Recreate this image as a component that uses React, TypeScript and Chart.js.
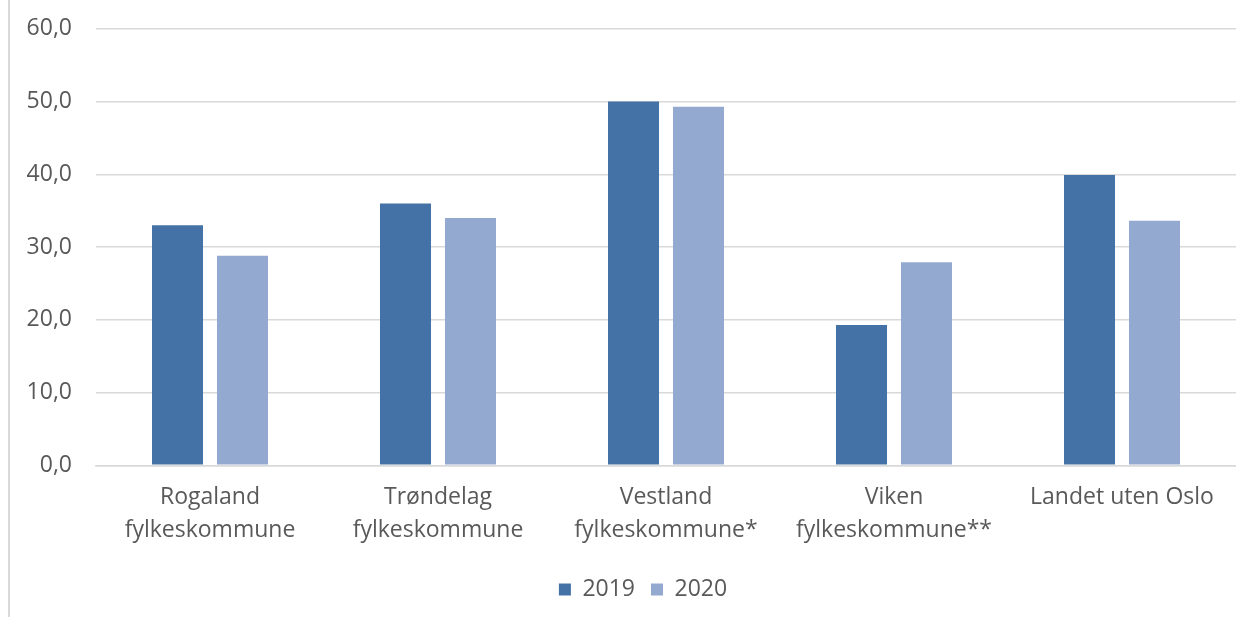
import React, { useEffect, useRef } from "react";
import { Chart, registerables } from "chart.js";

Chart.register(...registerables);

const categories: (string | string[])[] = [
  ["Rogaland", "fylkeskommune"],
  ["Trøndelag", "fylkeskommune"],
  ["Vestland", "fylkeskommune*"],
  ["Viken", "fylkeskommune**"],
  "Landet uten Oslo",
];
const series2019 = [33.0, 36.0, 50.0, 19.3, 39.9];
const series2020 = [28.8, 34.0, 49.3, 27.9, 33.6];
const yTicks = { min: 0, max: 60, step: 10 };

const FONT = "'Open Sans', sans-serif";
const TEXT = "#595959";
const GRID = "#d9d9d9";

const legendShift = {
  id: "legendShift",
  afterLayout(chart: any) {
    if (chart.legend) {
      chart.legend.left += 25;
      chart.legend.right += 25;
    }
  },
};

export default function App() {
  const ref = useRef<HTMLCanvasElement | null>(null);
  useEffect(() => {
    document.body.style.margin = "0";
    const ctx = ref.current!;
    const chart = new Chart(ctx, {
      type: "bar",
      data: {
        labels: categories,
        datasets: [
          {
            label: "2019",
            data: series2019,
            backgroundColor: "#4472a6",
            borderColor: "#4472a6",
            barPercentage: 0.785,
            categoryPercentage: 0.57,
          },
          {
            label: "2020",
            data: series2020,
            backgroundColor: "#94a9d0",
            borderColor: "#94a9d0",
            barPercentage: 0.785,
            categoryPercentage: 0.57,
          },
        ],
      },
      plugins: [legendShift],
      options: {
        animation: false,
        responsive: false,
        maintainAspectRatio: false,
        layout: { padding: { top: 20, right: 0, bottom: 6, left: 0 } },
        plugins: {
          tooltip: { enabled: false },
          legend: {
            position: "bottom",
            labels: {
              color: TEXT,
              font: { family: FONT, size: 23 },
              boxWidth: 12,
              boxHeight: 12,
              padding: 16,
            },
          },
        },
        scales: {
          x: {
            grid: { display: false, drawTicks: false },
            border: { display: true, color: GRID, width: 1.5 },
            ticks: {
              color: TEXT,
              font: { family: FONT, size: 23, lineHeight: 1.45 },
              padding: 15,
              maxRotation: 0,
              autoSkip: false,
            },
          },
          y: {
            min: yTicks.min,
            max: yTicks.max,
            afterFit: (scale: any) => {
              scale.width = 96;
            },
            grid: { color: GRID, lineWidth: 1.5, drawTicks: false },
            border: { display: false },
            ticks: {
              stepSize: yTicks.step,
              color: TEXT,
              font: { family: FONT, size: 23 },
              padding: 24,
              callback: (v: any) => Number(v).toFixed(1).replace(".", ","),
            },
          },
        },
      },
    });
    return () => chart.destroy();
  }, []);
  return (
    <div style={{ position: "relative", width: 1236, height: 617, background: "#fff", overflow: "hidden" }}>
      <canvas ref={ref} width={1236} height={626} style={{ position: "absolute", left: 0, top: -9 }} />
      <div
        style={{
          position: "absolute",
          left: 8,
          top: 0,
          width: 2,
          height: 617,
          background: GRID,
        }}
      />
    </div>
  );
}
